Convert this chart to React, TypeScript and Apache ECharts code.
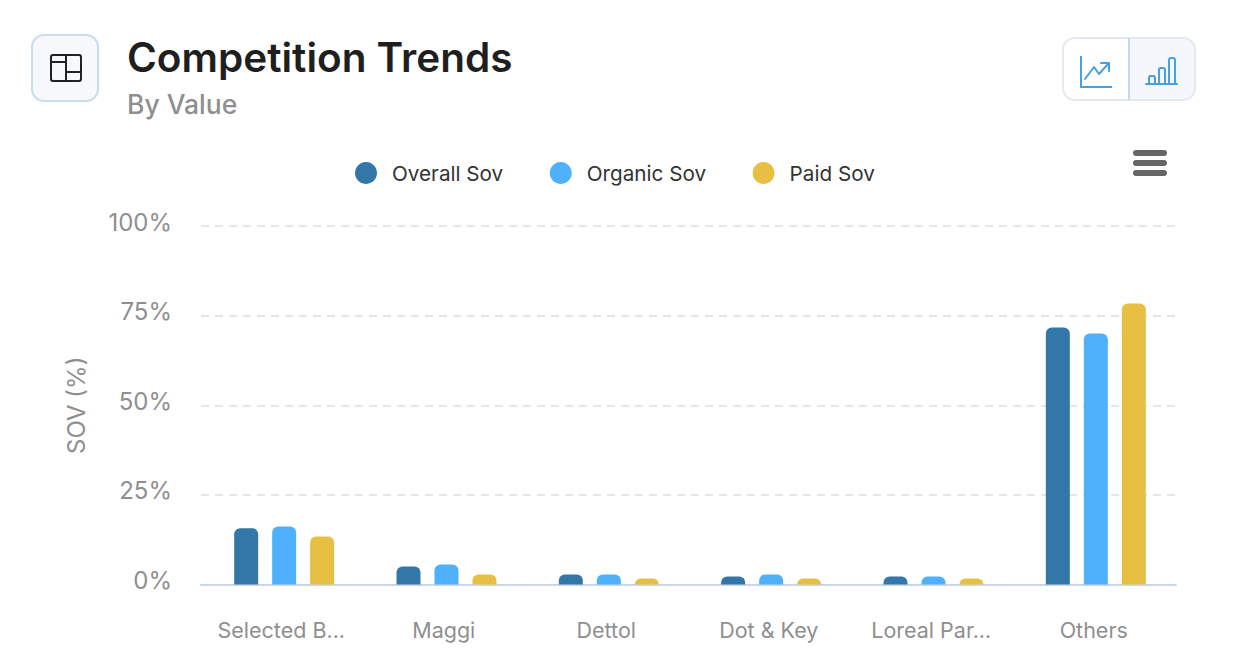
import React, { useEffect, useRef } from "react";
import * as echarts from "echarts";

const categories = ["Selected B...", "Maggi", "Dettol", "Dot & Key", "Loreal Par...", "Others"];
const overallSov = [15.7, 5, 2.8, 2.2, 2.2, 71.7];
const organicSov = [16.2, 5.6, 2.8, 2.8, 2.2, 70];
const paidSov = [13.4, 2.8, 1.7, 1.7, 1.7, 78.4];
const seriesNames = ["Overall Sov", "Organic Sov", "Paid Sov"];
const seriesColors = ["#3376a8", "#4fb0fb", "#e7bf42"];
const FONT = "Inter";

const stroke = (color: string, lineWidth = 2) => ({
  fill: "none",
  stroke: color,
  lineWidth,
  lineCap: "round",
  lineJoin: "round",
});

export default function App() {
  const ref = useRef<HTMLDivElement>(null);
  useEffect(() => {
    document.body.style.margin = "0";
    const chart = echarts.init(ref.current!, null, { renderer: "svg" });
    const blue = "#4a9fe0";
    const dark = "#222222";
    chart.setOption({
      animation: false,
      backgroundColor: "#ffffff",
      textStyle: { fontFamily: FONT },
      legend: {
        left: 350,
        top: 157,
        itemWidth: 22,
        itemHeight: 22,
        itemGap: 46.5,
        icon: "circle",
        data: seriesNames,
        selectedMode: false,
        textStyle: { fontFamily: FONT, fontSize: 20.7, color: "#333333", padding: [0, 0, 0, 10] },
      },
      grid: [
        { left: 201, top: 226, width: 975, height: 358.5, containLabel: false },
        { left: 203, top: 226, width: 974, height: 358.5, containLabel: false },
      ],
      xAxis: [
        {
          type: "category",
          gridIndex: 0,
          data: categories,
          axisTick: { show: false },
          axisLine: { lineStyle: { color: "#ccd6eb", width: 2 } },
          axisLabel: { fontFamily: FONT, fontSize: 21.5, color: "#8f8f8f", margin: 34, interval: 0, padding: [0, 2, 0, 0] },
        },
        { type: "category", gridIndex: 1, data: categories, show: false },
      ],
      yAxis: [
        {
          type: "value",
          gridIndex: 0,
          min: 0,
          max: 100,
          interval: 25,
          name: "SOV (%)",
          nameLocation: "middle",
          nameGap: 113,
          nameTextStyle: { fontFamily: FONT, fontSize: 24, color: "#8f8f8f" },
          axisLine: { show: false },
          axisTick: { show: false },
          axisLabel: { fontFamily: FONT, fontSize: 24, color: "#8f8f8f", margin: 29, formatter: "{value}%", verticalAlign: "bottom", lineHeight: 8 },
          splitLine: { lineStyle: { color: "#e6e6e6", width: 2, type: [8, 6] } },
        },
        { type: "value", gridIndex: 1, min: 0, max: 100, show: false },
      ],
      series: [overallSov, organicSov, paidSov].map((data, i) => ({
        name: seriesNames[i],
        type: "bar",
        xAxisIndex: 1,
        yAxisIndex: 1,
        data,
        barWidth: 24,
        barGap: "58.33%",
        itemStyle: { color: seriesColors[i], borderRadius: [6, 6, 0, 0] },
      })),
      graphic: [
        { type: "text", x: 127, y: 37, style: { text: "Competition Trends", fontFamily: FONT, fontSize: 40.5, fontWeight: 600, fill: "#1f1f1f" } },
        { type: "text", x: 127, y: 90, style: { text: "By Value", fontFamily: FONT, fontSize: 26.5, fontWeight: 500, fill: "#8f8f8f" } },
        // layout icon button
        { type: "rect", shape: { x: 32, y: 35, width: 66, height: 66, r: 12 }, style: { fill: "#f6f8fc", stroke: "#cbdcec", lineWidth: 2 } },
        { type: "rect", shape: { x: 51, y: 55, width: 30, height: 26, r: 2 }, style: stroke(dark) },
        { type: "line", shape: { x1: 66, y1: 55, x2: 66, y2: 81 }, style: stroke(dark) },
        { type: "line", shape: { x1: 51, y1: 62, x2: 66, y2: 62 }, style: stroke(dark) },
        { type: "line", shape: { x1: 66, y1: 72, x2: 81, y2: 72 }, style: stroke(dark) },
        // toggle
        { type: "rect", shape: { x: 1129, y: 38, width: 66, height: 62, r: [0, 12, 12, 0] }, style: { fill: "#f4f8fc" } },
        { type: "rect", shape: { x: 1063, y: 38, width: 132, height: 62, r: 12 }, style: { fill: "none", stroke: "#e4e9f0", lineWidth: 2 } },
        { type: "line", shape: { x1: 1129, y1: 38, x2: 1129, y2: 100 }, style: { stroke: "#c8d8e6", lineWidth: 2 } },
        { type: "polyline", shape: { points: [[1081, 56], [1081, 87], [1112, 87]] }, style: { ...stroke(blue), lineCap: "butt", lineJoin: "miter" } },
        { type: "polyline", shape: { points: [[1085, 79], [1094, 67], [1099, 74], [1109, 63]] }, style: stroke(blue) },
        { type: "polyline", shape: { points: [[1101, 63], [1109, 63], [1109, 71]] }, style: stroke(blue) },
        { type: "line", shape: { x1: 1146, y1: 84, x2: 1177, y2: 84 }, style: stroke(blue) },
        { type: "rect", shape: { x: 1149, y: 76, width: 6, height: 8, r: [2, 2, 0, 0] }, style: stroke(blue) },
        { type: "rect", shape: { x: 1159, y: 68, width: 6, height: 16, r: [2, 2, 0, 0] }, style: stroke(blue) },
        { type: "rect", shape: { x: 1169, y: 58, width: 6, height: 26, r: [2, 2, 0, 0] }, style: stroke(blue) },
        // menu
        { type: "rect", shape: { x: 1133, y: 150, width: 34, height: 6, r: 3 }, style: { fill: "#666666" } },
        { type: "rect", shape: { x: 1133, y: 160, width: 34, height: 6, r: 3 }, style: { fill: "#666666" } },
        { type: "rect", shape: { x: 1133, y: 170, width: 34, height: 6, r: 3 }, style: { fill: "#666666" } },
      ],
    });
    return () => chart.dispose();
  }, []);
  return <div ref={ref} style={{ width: 1236, height: 672 }} />;
}
